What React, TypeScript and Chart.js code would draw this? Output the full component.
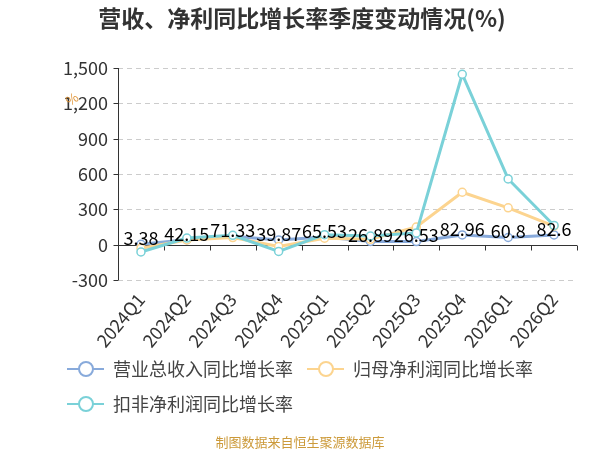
import React, { useEffect, useRef } from "react";
import { Chart, registerables } from "chart.js";

Chart.register(...registerables);

const categories = ["2024Q1", "2024Q2", "2024Q3", "2024Q4", "2025Q1", "2025Q2", "2025Q3", "2025Q4", "2026Q1", "2026Q2"];
const revenueGrowth = [3.38, 42.15, 71.33, 39.87, 65.53, 26.89, 26.53, 82.96, 60.8, 82.6];
const netProfitGrowth = [-30, 40, 60, -15, 55, 45, 150, 445, 313, 158];
const deductedProfitGrowth = [-62, 56, 79, -57, 85, 73, 100, 1447, 558, 163];
const seriesNames = ["营业总收入同比增长率", "归母净利润同比增长率", "扣非净利润同比增长率"];
const seriesColors = ["#88aadb", "#fcd48f", "#7ad1d8"];
const yTicks = [-300, 0, 300, 600, 900, 1200, 1500];

const FONT = '"Noto Sans CJK SC", "Noto Sans", sans-serif';

const decorPlugin = {
  id: "decor",
  beforeDatasetsDraw(chart: any) {
    const { ctx, chartArea, scales } = chart;
    const y = scales.y;
    ctx.save();
    ctx.strokeStyle = "#cccccc";
    ctx.lineWidth = 1;
    ctx.setLineDash([5, 4]);
    yTicks.forEach((v) => {
      if (v === 0) return;
      const py = Math.round(y.getPixelForValue(v)) + 0.5;
      ctx.beginPath();
      ctx.moveTo(chartArea.left, py);
      ctx.lineTo(chartArea.right, py);
      ctx.stroke();
    });
    ctx.setLineDash([]);
    ctx.strokeStyle = "#333333";
    const ax = Math.round(chartArea.left) + 0.5;
    ctx.beginPath();
    ctx.moveTo(ax, chartArea.top);
    ctx.lineTo(ax, chartArea.bottom);
    ctx.stroke();
    yTicks.forEach((v) => {
      const py = Math.round(y.getPixelForValue(v)) + 0.5;
      ctx.beginPath();
      ctx.moveTo(ax - 5, py);
      ctx.lineTo(ax, py);
      ctx.stroke();
    });
    const zy = Math.round(y.getPixelForValue(0)) + 0.5;
    ctx.beginPath();
    ctx.moveTo(chartArea.left, zy);
    ctx.lineTo(chartArea.right, zy);
    ctx.stroke();
    const n = categories.length;
    const w = (chartArea.right - chartArea.left) / n;
    for (let i = 0; i <= n; i++) {
      const px = Math.round(chartArea.left + i * w) + 0.5;
      ctx.beginPath();
      ctx.moveTo(px, zy);
      ctx.lineTo(px, zy + 5);
      ctx.stroke();
    }
    ctx.restore();
  },
  afterDatasetsDraw(chart: any) {
    const { ctx } = chart;
    const meta = chart.getDatasetMeta(0);
    ctx.save();
    ctx.fillStyle = "#000000";
    ctx.font = `18px ${FONT}`;
    ctx.textAlign = "center";
    ctx.textBaseline = "middle";
    meta.data.forEach((pt: any, i: number) => {
      ctx.fillText(String(revenueGrowth[i]), pt.x, pt.y - 6);
    });
    ctx.restore();
  },
  afterDraw(chart: any) {
    const { ctx } = chart;
    ctx.save();
    ctx.fillStyle = "#333333";
    ctx.font = `bold 23px ${FONT}`;
    ctx.textAlign = "center";
    ctx.textBaseline = "middle";
    ctx.fillText("营收、净利同比增长率季度变动情况(%)", 302, 18);
    const items = [
      { x: 67, y: 369 },
      { x: 307, y: 369 },
      { x: 67, y: 404 },
    ];
    items.forEach((it, i) => {
      ctx.strokeStyle = seriesColors[i];
      ctx.lineWidth = 2;
      ctx.beginPath();
      ctx.moveTo(it.x, it.y);
      ctx.lineTo(it.x + 37, it.y);
      ctx.stroke();
      ctx.beginPath();
      ctx.arc(it.x + 19, it.y, 7, 0, Math.PI * 2);
      ctx.fillStyle = "#ffffff";
      ctx.fill();
      ctx.stroke();
      ctx.fillStyle = "#444444";
      ctx.font = `18px ${FONT}`;
      ctx.textAlign = "left";
      ctx.textBaseline = "middle";
      ctx.fillText(seriesNames[i], it.x + 46, it.y);
    });
    ctx.fillStyle = "#cc9a3a";
    ctx.font = `13px ${FONT}`;
    ctx.textAlign = "center";
    ctx.fillText("制图数据来自恒生聚源数据库", 300, 442);
    ctx.translate(72, 99);
    ctx.rotate(-Math.PI / 5);
    ctx.fillStyle = "#e0963a";
    ctx.font = `13px ${FONT}`;
    ctx.fillText("%", 0, 0);
    ctx.restore();
  },
};

export default function App() {
  const ref = useRef<HTMLCanvasElement>(null);
  useEffect(() => {
    if (!ref.current) return;
    const data = [revenueGrowth, netProfitGrowth, deductedProfitGrowth];
    const chart = new Chart(ref.current, {
      type: "line",
      data: {
        labels: categories,
        datasets: data.map((d, i) => ({
          label: seriesNames[i],
          data: d,
          borderColor: seriesColors[i],
          backgroundColor: "#ffffff",
          borderWidth: 3,
          pointRadius: 4,
          pointBorderWidth: 1.5,
          pointBackgroundColor: "#ffffff",
          pointBorderColor: seriesColors[i],
          tension: 0,
          order: 2 - i,
        })),
      },
      options: {
        animation: false,
        responsive: false,
        layout: { padding: { top: 68, right: 23, left: 0, bottom: 0 } },
        plugins: {
          legend: { display: false },
          tooltip: { enabled: false },
          title: { display: false },
        },
        scales: {
          x: {
            offset: true,
            grid: { display: false, drawTicks: false },
            border: { display: false },
            ticks: {
              minRotation: 50,
              maxRotation: 50,
              padding: 9,
              color: "#333333",
              font: { size: 18, family: FONT },
            },
            afterFit: (s: any) => {
              s.height = 170;
            },
          },
          y: {
            min: -300,
            max: 1500,
            grid: { display: false, drawTicks: false },
            border: { display: false },
            ticks: {
              stepSize: 300,
              padding: 10,
              color: "#333333",
              font: { size: 18, family: FONT },
            },
            afterFit: (s: any) => {
              s.width = 118;
            },
          },
        },
      },
      plugins: [decorPlugin],
    });
    return () => chart.destroy();
  }, []);
  return (
    <div style={{ position: "fixed", left: 0, top: 0, width: 600, height: 450, background: "#fff" }}>
      <canvas ref={ref} width={600} height={450} style={{ width: 600, height: 450 }} />
    </div>
  );
}
